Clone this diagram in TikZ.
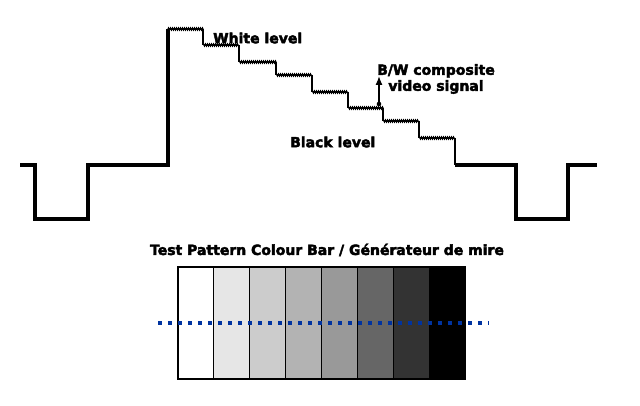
\documentclass[tikz,border=0pt]{standalone}
\usepackage{fontspec}
\setmainfont{DejaVu Sans}[BoldFeatures={FakeBold=3}]
\usetikzlibrary{decorations.pathmorphing,arrows.meta}
\definecolor{dotblue}{HTML}{0033A0}
\tikzset{
  thickwave/.style={line width=4pt,line join=miter,line cap=butt},
  thinwave/.style={line width=1.3pt},
  noisy/.style={line width=1.3pt,decorate,decoration={zigzag,amplitude=1pt,segment length=2pt}},
  lbl/.style={font=\fontsize{14}{16}\selectfont\bfseries,inner sep=0pt},
  bar/.style={draw=black,line width=1pt}
}
\begin{document}
\begin{tikzpicture}[x=1pt,y=-1pt]
\useasboundingbox (0,0) rectangle (640,406);
% thick sync parts
\draw[thickwave] (20,165) -- (35,165) -- (35,219) -- (88,219) -- (88,165) -- (168,165) -- (168,29);
\draw[thickwave] (455,165) -- (516,165) -- (516,219) -- (568,219) -- (568,165) -- (597,165);
% staircase
\foreach \xa/\xb/\y in {168/203/29, 203/239/45, 239/276/62, 276/312/75, 312/348/92, 348/383/108, 383/419/121, 419/455/138}{
  \draw[noisy] (\xa,\y) -- (\xb,\y);
}
\draw[thinwave] (203,29) -- (203,45) (239,45) -- (239,62) (276,62) -- (276,75) (312,75) -- (312,92)
  (348,92) -- (348,108) (383,108) -- (383,121) (419,121) -- (419,138) (455,138) -- (455,165);
% labels
\node[lbl,anchor=west] (white) at (213,38) {White level};
\node[lbl,anchor=west] (black) at (290,142) {Black level};
\node[lbl,align=center] (bw) at (436,79) {B/W composite\\video signal};
\coordinate (sig) at (379,104);
\coordinate (sigtop) at (379,76);
\fill (sig) circle (2.3);
\draw[line width=1.3pt,-{Latex[length=9pt,width=7pt]}] (sig) -- (sigtop);
% title
\node[lbl] (title) at (327,250) {Test Pattern Colour Bar / Générateur de mire};
% bars
\foreach \i/\c in {0/FFFFFF,1/E6E6E6,2/CCCCCC,3/B3B3B3,4/999999,5/666666,6/333333,7/000000}{
  \definecolor{barc}{HTML}{\c}
  \path[bar,fill=barc] ({178+\i*35.875},267) rectangle ({178+(\i+1)*35.875},379);
}
\draw[line width=1.2pt] (178,267) rectangle (465,379);
\coordinate (dl) at (158,323);
\coordinate (dr) at (489,323);
\draw[dotblue,line width=4pt,dash pattern=on 4pt off 6pt] (dl) -- (dr);
\end{tikzpicture}
\end{document}
